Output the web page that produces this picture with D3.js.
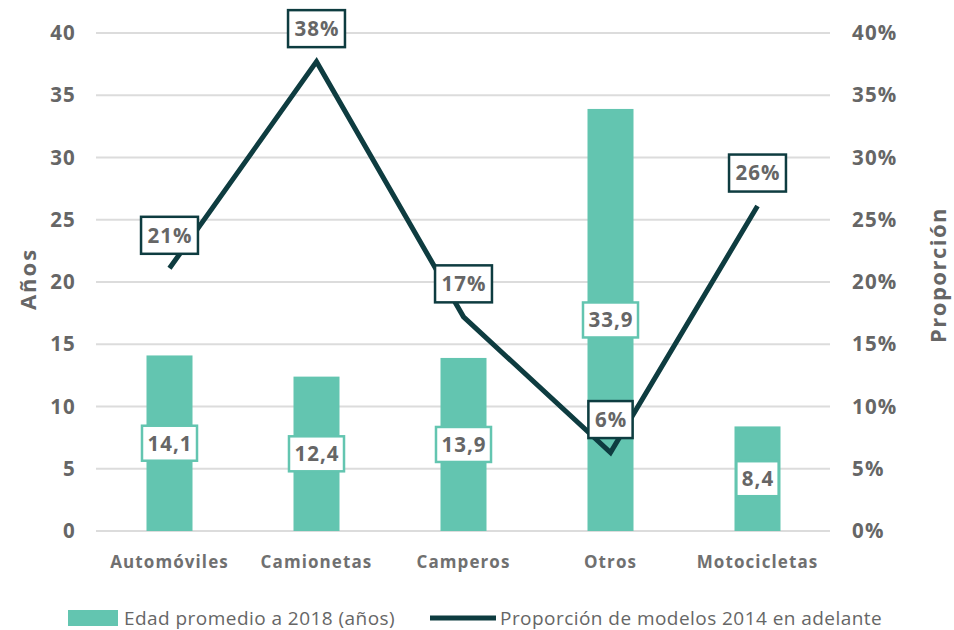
<!DOCTYPE html>
<html><head><meta charset="utf-8">
<script src="https://cdn.jsdelivr.net/npm/d3@7"></script>
<style>body{margin:0;background:#fff;font-family:"Open Sans",sans-serif;} svg text{font-family:"Open Sans",sans-serif;}</style>
</head><body><svg id="c" width="954" height="630"></svg>
<script>
const categories = ["Automóviles","Camionetas","Camperos","Otros","Motocicletas"];
const edad = [14.1, 12.4, 13.9, 33.9, 8.4];
const proporcion = [21.1, 37.7, 17.2, 6.3, 26.1];
const leftTicks = [0,5,10,15,20,25,30,35,40];
const rightTicks = [0,5,10,15,20,25,30,35,40];

const svg = d3.select("#c");
const x0=96,x1=831,yTop=33,yBot=531;
const x = d3.scaleBand().domain(categories).range([x0,x1]).paddingInner(0.687).paddingOuter(0.3435);
const yL = d3.scaleLinear().domain([0,40]).range([yBot,yTop]);
const yR = d3.scaleLinear().domain([0,40]).range([yBot,yTop]);
const gray="#666", teal="#63c5b0", dark="#0e3c40";
const fmt = v => d3.format(".1f")(v).replace(".",",");

svg.append("g").selectAll("line").data(leftTicks).join("line")
 .attr("x1",x0).attr("x2",x1-1).attr("y1",d=>yL(d)).attr("y2",d=>yL(d))
 .attr("stroke","#dcdcdc").attr("stroke-width",2);

const gl = svg.append("g").attr("transform",`translate(${x0},0)`)
 .call(d3.axisLeft(yL).tickValues(leftTicks).tickSize(0).tickPadding(20));
gl.select(".domain").remove();
gl.selectAll("text").attr("font-size",20.5).attr("font-weight",700).attr("fill",gray).attr("letter-spacing",1.2);

const gr = svg.append("g").attr("transform",`translate(${x1},0)`)
 .call(d3.axisRight(yR).tickValues(rightTicks).tickSize(0).tickPadding(21).tickFormat(d=>d+"%"));
gr.select(".domain").remove();
gr.selectAll("text").attr("font-size",20.5).attr("font-weight",700).attr("fill",gray).attr("letter-spacing",1.2);

const gx = svg.append("g").attr("transform",`translate(0,${yBot})`)
 .call(d3.axisBottom(x).tickSize(0).tickPadding(25));
gx.select(".domain").remove();
gx.selectAll("text").attr("font-size",17).attr("font-weight",700).attr("fill","#707070").attr("letter-spacing",1.1);

svg.append("text").attr("transform","translate(36,279) rotate(-90)").attr("text-anchor","middle")
 .attr("font-size",22).attr("font-weight",700).attr("fill",gray).attr("letter-spacing",2).text("Años");
svg.append("text").attr("transform","translate(946,275) rotate(-90)").attr("text-anchor","middle")
 .attr("font-size",22).attr("font-weight",700).attr("fill",gray).attr("letter-spacing",1.5).text("Proporción");

svg.append("g").selectAll("rect").data(categories).join("rect")
 .attr("x",d=>x(d)).attr("width",x.bandwidth())
 .attr("y",(d,i)=>yL(edad[i])).attr("height",(d,i)=>yBot-yL(edad[i]))
 .attr("fill",teal);

function boxLabels(sel, stroke, h, pad){
  sel.each(function(){
    const g=d3.select(this);
    const t=g.select("text").node();
    const w=t.getComputedTextLength()+pad*2;
    g.insert("rect","text").attr("x",-w/2).attr("y",-h/2).attr("width",w).attr("height",h)
     .attr("fill","#fff").attr("stroke",stroke).attr("stroke-width",2.5);
  });
}

const bl = svg.append("g").selectAll("g").data(categories).join("g")
 .attr("transform",(d,i)=>`translate(${x(d)+x.bandwidth()/2},${(yL(edad[i])+yBot)/2})`);
bl.append("text").attr("text-anchor","middle").attr("dy","0.36em").attr("font-size",20.5).attr("font-weight",700)
 .attr("fill",gray).attr("letter-spacing",1).attr("dx",0.5).text((d,i)=>fmt(edad[i]));
boxLabels(bl, teal, 35, 5);

const line = d3.line().x((d,i)=>x(categories[i])+x.bandwidth()/2).y(d=>yR(d));
svg.append("path").datum(proporcion).attr("d",line).attr("fill","none")
 .attr("stroke",dark).attr("stroke-width",5).attr("stroke-linejoin","miter");

const ll = svg.append("g").selectAll("g").data(categories).join("g")
 .attr("transform",(d,i)=>`translate(${x(d)+x.bandwidth()/2},${yR(proporcion[i])-33})`);
ll.append("text").attr("text-anchor","middle").attr("dy","0.36em").attr("font-size",20.5).attr("font-weight",700)
 .attr("fill",gray).attr("letter-spacing",1).attr("dx",0.5).text((d,i)=>Math.round(proporcion[i])+"%");
boxLabels(ll, dark, 37, 6);

const lg = svg.append("g");
lg.append("rect").attr("x",68).attr("y",610).attr("width",50).attr("height",16).attr("fill",teal);
lg.append("text").attr("x",124).attr("y",618).attr("dy","0.35em").attr("font-size",19).attr("fill",gray).attr("letter-spacing",0.45).text("Edad promedio a 2018 (años)");
lg.append("line").attr("x1",430).attr("x2",496).attr("y1",618).attr("y2",618).attr("stroke",dark).attr("stroke-width",5);
lg.append("text").attr("x",500).attr("y",618).attr("dy","0.35em").attr("font-size",19).attr("fill",gray).attr("letter-spacing",0.45).text("Proporción de modelos 2014 en adelante");
</script></body></html>
